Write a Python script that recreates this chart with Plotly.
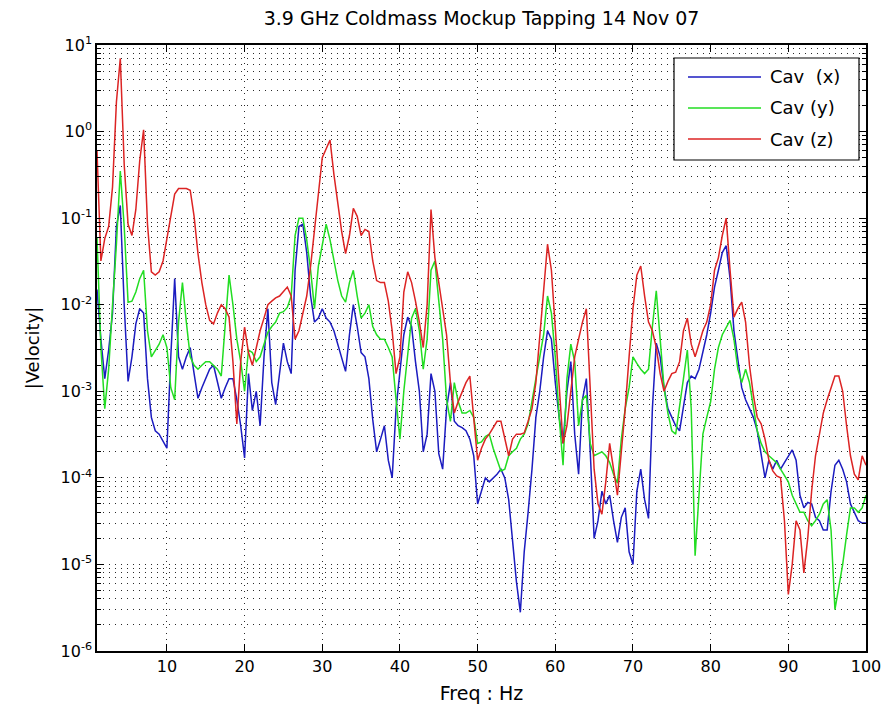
import plotly.graph_objects as go

# Frequency grid (Hz), 0.5 Hz resolution
freq = [1 + 0.5 * i for i in range(199)]

cav_x = [
    1.5e-2, 4e-3, 1.4e-3, 3e-3, 8e-3, 8e-2, 0.14, 1e-2, 1.3e-3, 2.5e-3,
    6e-3, 9e-3, 8e-3, 1.4e-3, 5e-4, 3.5e-4, 3.2e-4, 2.6e-4, 2.2e-4, 2.5e-3,
    2e-2, 2.5e-3, 1.8e-3, 2.5e-3, 3.2e-3, 1.6e-3, 8.3e-4, 1.1e-3, 1.4e-3, 1.8e-3,
    2e-3, 1.26e-3, 8.3e-4, 1.1e-3, 1.4e-3, 1.4e-3, 8e-4, 4e-4, 1.7e-4, 1.6e-3,
    6e-4, 1e-3, 4e-4, 2.5e-3, 9e-3, 1.26e-3, 7e-4, 1.6e-3, 3.6e-3, 2.2e-3,
    1.6e-3, 2.5e-2, 8e-2, 8.5e-2, 4e-2, 1.26e-2, 6.3e-3, 7e-3, 9e-3, 7e-3,
    6.3e-3, 5e-3, 3.5e-3, 2.5e-3, 1.7e-3, 4.5e-3, 1e-2, 5.6e-3, 2.8e-3, 2.5e-3,
    1.4e-3, 4.7e-4, 2e-4, 2.8e-4, 4e-4, 1.6e-4, 1e-4, 6.3e-4, 1.6e-3, 4.5e-3,
    7.2e-3, 5.6e-3, 2.2e-3, 1e-3, 2e-4, 3.2e-4, 1.6e-3, 1e-3, 1.9e-4, 1.26e-4,
    6.3e-4, 1.26e-3, 4.5e-4, 4e-4, 3.8e-4, 3.5e-4, 2.8e-4, 1.8e-4, 5e-5, 7e-5,
    1e-4, 9e-5, 1e-4, 1.1e-4, 1.26e-4, 1e-4, 5.6e-5, 2e-5, 6.3e-6, 2.8e-6,
    1.4e-5, 4e-5, 1.26e-4, 5e-4, 1e-3, 2.5e-3, 5e-3, 4e-3, 1.26e-3, 5e-4,
    2.5e-4, 1e-3, 2.2e-3, 3.2e-4, 1.1e-4, 8e-4, 1.4e-3, 2e-4, 2e-5, 3.2e-5,
    7e-5, 5e-5, 6.3e-5, 3.2e-5, 1.8e-5, 3.5e-5, 4.5e-5, 1.4e-5, 1e-5, 7e-5,
    1.26e-4, 5.6e-5, 3.4e-5, 6.3e-4, 3.6e-3, 2.5e-3, 1.1e-3, 6.3e-4, 5e-4, 4e-4,
    3.5e-4, 6.3e-4, 1.26e-3, 1.5e-3, 1.4e-3, 1.8e-3, 2.8e-3, 4.5e-3, 8e-3, 1.6e-2,
    2.5e-2, 4e-2, 4.8e-2, 2e-2, 5e-3, 2.2e-3, 1.1e-3, 8e-4, 6.3e-4, 5e-4,
    3.5e-4, 1.9e-4, 1e-4, 1.6e-4, 1.26e-4, 1.6e-4, 1.26e-4, 1.5e-4, 1.8e-4, 2.1e-4,
    1.6e-4, 6.3e-5, 4.5e-5, 5.2e-5, 5e-5, 3.5e-5, 3.2e-5, 2.5e-5, 2.5e-5, 7e-5,
    1.4e-4, 1.6e-4, 1.26e-4, 9e-5, 5e-5, 4e-5, 3.2e-5, 3e-5, 3e-5,
]

cav_y = [
    6e-2, 3.2e-3, 6.3e-4, 1.8e-3, 1e-2, 5e-2, 0.35, 8e-2, 1.07e-2, 1.1e-2,
    1.4e-2, 2e-2, 2.5e-2, 5e-3, 2.5e-3, 3e-3, 3.5e-3, 4.5e-3, 3.2e-3, 1.1e-3,
    8e-4, 6.3e-3, 1.8e-2, 6.3e-3, 2.5e-3, 2e-3, 1.8e-3, 2e-3, 2.2e-3, 2.2e-3,
    2e-3, 1.8e-3, 1.5e-3, 6.3e-3, 2.2e-2, 1e-2, 4e-3, 2.2e-3, 1e-3, 3e-3,
    2.8e-3, 2.2e-3, 2.5e-3, 3.5e-3, 4.8e-3, 5.6e-3, 6.3e-3, 8e-3, 8.3e-3, 9.3e-3,
    1.26e-2, 6.3e-2, 0.1, 0.1, 5.6e-2, 2.5e-2, 9e-3, 2.8e-2, 5e-2, 8.5e-2,
    5.6e-2, 3.2e-2, 1.9e-2, 1.26e-2, 1.07e-2, 1.8e-2, 2.5e-2, 1.26e-2, 7e-3, 8e-3,
    1e-2, 5.6e-3, 4.5e-3, 4e-3, 4e-3, 3.2e-3, 2.5e-3, 8e-4, 2.8e-4, 1e-3,
    2.5e-3, 7e-3, 9e-3, 5e-3, 1.8e-3, 4e-3, 2.5e-2, 3.2e-2, 1.1e-2, 4e-3,
    8e-4, 4.5e-4, 1.26e-3, 7.6e-4, 5.6e-4, 5.6e-4, 6e-4, 5e-4, 2.5e-4, 2.6e-4,
    3e-4, 3.2e-4, 2.2e-4, 1.6e-4, 1.2e-4, 1.26e-4, 1.8e-4, 2e-4, 2.2e-4, 2.8e-4,
    3.2e-4, 4.2e-4, 8e-4, 1.4e-3, 2.5e-3, 4.5e-3, 1.26e-2, 8e-3, 2.5e-3, 5e-4,
    1.4e-4, 1.4e-3, 3.5e-3, 2.2e-3, 4e-4, 8e-4, 9e-4, 2.5e-4, 1.8e-4, 1.9e-4,
    2e-4, 1.8e-4, 1.5e-4, 1.1e-4, 8.7e-5, 2.8e-4, 6.3e-4, 1.1e-3, 2.5e-3, 2.1e-3,
    1.8e-3, 1.6e-3, 1.8e-3, 5.6e-3, 1.45e-2, 4e-3, 1.1e-3, 5.6e-4, 3.5e-4, 3.2e-4,
    6.3e-4, 1.4e-3, 3e-3, 6.3e-4, 1.26e-5, 6.3e-5, 3.2e-4, 5e-4, 7.6e-4, 1.8e-3,
    3.2e-3, 4.5e-3, 5.4e-3, 6.6e-3, 4e-3, 1.8e-3, 1.26e-3, 1.8e-3, 1.26e-3, 6.6e-4,
    3.5e-4, 2.5e-4, 2e-4, 1.8e-4, 1.66e-4, 1.5e-4, 1.26e-4, 1.07e-4, 9e-5, 6.3e-5,
    5e-5, 4e-5, 4e-5, 3.2e-5, 2.8e-5, 3.2e-5, 3.8e-5, 5e-5, 5.6e-5, 2.5e-5,
    3e-6, 5.6e-6, 1e-5, 2.2e-5, 4.5e-5, 4.5e-5, 4e-5, 4.5e-5, 6.3e-5,
]

cav_z = [
    0.6, 3.2e-2, 5.8e-2, 8e-2, 0.23, 2.2, 7.0, 0.42, 8.5e-2, 6.3e-2,
    0.126, 0.46, 1.05, 8.5e-2, 2.4e-2, 2.2e-2, 2.4e-2, 3.2e-2, 5.8e-2, 0.105,
    0.19, 0.22, 0.22, 0.22, 0.21, 0.105, 3.9e-2, 1.8e-2, 1e-2, 6.6e-3,
    6e-3, 8e-3, 1e-2, 9e-3, 7.2e-3, 2.2e-3, 4.2e-4, 2.2e-3, 5.5e-3, 2.8e-3,
    2e-3, 3.2e-3, 5e-3, 7e-3, 1e-2, 1.1e-2, 1.2e-2, 1.26e-2, 1.4e-2, 1.6e-2,
    1.26e-2, 4e-3, 5e-3, 8e-3, 1.26e-2, 2.8e-2, 8e-2, 0.19, 0.5, 0.63,
    0.8, 0.32, 0.14, 7e-2, 3.9e-2, 6.3e-2, 0.13, 0.105, 6.3e-2, 7.4e-2,
    7e-2, 3.2e-2, 1.9e-2, 1.8e-2, 1.8e-2, 1.1e-2, 5e-3, 1.6e-3, 2.5e-3, 1.4e-2,
    2.4e-2, 1.8e-2, 1.1e-2, 6.3e-3, 3.2e-3, 1e-2, 0.126, 3.5e-2, 1.8e-2, 9e-3,
    4.5e-3, 1.26e-3, 5.6e-4, 7.6e-4, 1e-3, 1.26e-3, 1.5e-3, 5e-4, 1.6e-4, 2.2e-4,
    2.8e-4, 3.2e-4, 3.8e-4, 4.5e-4, 4.5e-4, 2.8e-4, 1.8e-4, 2.8e-4, 3.2e-4, 3.2e-4,
    3.3e-4, 4.5e-4, 6.3e-4, 1.26e-3, 4e-3, 1.4e-2, 5e-2, 2.5e-2, 5e-3, 1e-3,
    2.5e-4, 4e-4, 1e-3, 2.5e-3, 4e-3, 6.3e-3, 9e-3, 1.26e-3, 1.26e-4, 5e-5,
    3.8e-5, 9e-5, 2.5e-4, 1.26e-4, 6.3e-5, 2e-4, 6.3e-4, 2.5e-3, 9e-3, 2.2e-2,
    2.8e-2, 1.26e-2, 6.3e-3, 5e-3, 3.2e-3, 1.6e-3, 1e-3, 1.3e-3, 1.6e-3, 1.66e-3,
    2.2e-3, 5e-3, 7e-3, 3.5e-3, 2.5e-3, 3.5e-3, 5e-3, 6.3e-3, 1e-2, 2.5e-2,
    3.5e-2, 6.3e-2, 0.1, 2.5e-2, 7.2e-3, 9e-3, 1.07e-2, 6.3e-3, 2e-3, 9e-4,
    5e-4, 4.2e-4, 2.8e-4, 1.6e-4, 1.2e-4, 1.05e-4, 1e-4, 3.2e-5, 4.5e-6, 1e-5,
    3.2e-5, 2.5e-5, 8e-6, 2e-5, 7e-5, 1.8e-4, 3.2e-4, 5.6e-4, 8e-4, 1.1e-3,
    1.5e-3, 1.5e-3, 1e-3, 4e-4, 1.8e-4, 1.1e-4, 9.5e-5, 1.8e-4, 1.4e-4,
]

series_names = ["Cav\u00a0\u00a0(x)", "Cav (y)", "Cav (z)"]
series_colors = ["#1c1cc0", "#22dd22", "#dc2424"]

x_ticks = [10, 20, 30, 40, 50, 60, 70, 80, 90, 100]
y_exponents = [-6, -5, -4, -3, -2, -1, 0, 1]

FONT = "DejaVu Sans, Liberation Sans, sans-serif"
GRID = "#2a2a2a"
DASH = "1px,5px"

# plot-area geometry (pixels in the 896x712 page)
L, R, T, B = 97, 866, 45, 651


def px(x):
    return (x - L) / (R - L)


def py(y):
    return (B - y) / (B - T)


fig = go.Figure()
for name, vals, color in zip(series_names, [cav_x, cav_y, cav_z], series_colors):
    fig.add_trace(go.Scatter(x=freq, y=vals, mode="lines", name=name,
                             line=dict(color=color, width=1.5), showlegend=False))

y_tickvals = [10.0 ** e for e in y_exponents]
y_ticktext = ["10<sup>%d</sup>" % e for e in y_exponents]
y_minor = [m * 10.0 ** e for e in y_exponents[:-1] for m in range(2, 10)]

fig.update_xaxes(
    range=[1, 100], tickvals=x_ticks, ticktext=[str(t) for t in x_ticks],
    ticks="inside", ticklen=7, tickcolor="black", tickwidth=1,
    showgrid=True, gridcolor=GRID, griddash=DASH, gridwidth=1,
    showline=True, linecolor="black", linewidth=1.5, mirror="ticks",
    zeroline=False, tickfont=dict(family=FONT, size=16, color="black"),
    title=dict(text="Freq : Hz", font=dict(family=FONT, size=19, color="black"), standoff=12),
)
fig.update_yaxes(
    type="log", range=[-6, 1], tickvals=y_tickvals, ticktext=y_ticktext,
    ticks="inside", ticklen=7, tickcolor="black", tickwidth=1,
    showgrid=True, gridcolor=GRID, griddash=DASH, gridwidth=1,
    minor=dict(tickvals=y_minor, ticks="inside", ticklen=4, tickcolor="black",
               showgrid=True, gridcolor=GRID, griddash=DASH, gridwidth=1),
    showline=True, linecolor="black", linewidth=1.5, mirror="ticks",
    zeroline=False, tickfont=dict(family=FONT, size=16, color="black"),
    title=dict(text="|Velocity|", font=dict(family=FONT, size=18, color="black"), standoff=16),
)

# legend drawn as a MATLAB-style box inside the axes
shapes = [dict(type="rect", xref="paper", yref="paper",
               x0=px(674), x1=px(859), y0=py(160), y1=py(58),
               line=dict(color="black", width=1.2), fillcolor="white", layer="above")]
annotations = []
for i, (name, color) in enumerate(zip(series_names, series_colors)):
    yy = py(77 + 31 * i)
    shapes.append(dict(type="line", xref="paper", yref="paper",
                       x0=px(688), x1=px(761), y0=yy, y1=yy,
                       line=dict(color=color, width=1.5), layer="above"))
    annotations.append(dict(xref="paper", yref="paper", x=px(768), y=yy,
                            xanchor="left", yanchor="middle", showarrow=False,
                            text=name, font=dict(family=FONT, size=18, color="black")))

fig.update_layout(
    width=896, height=712,
    margin=dict(l=L, r=896 - R, t=T, b=712 - B),
    paper_bgcolor="white", plot_bgcolor="white",
    title=dict(text="3.9 GHz Coldmass Mockup Tapping 14 Nov 07",
               font=dict(family=FONT, size=19, color="black"),
               x=0.5, xref="paper", xanchor="center",
               y=1 - 18 / 712, yref="container", yanchor="middle"),
    shapes=shapes, annotations=annotations,
    showlegend=False,
)

fig.write_html("out.html")
